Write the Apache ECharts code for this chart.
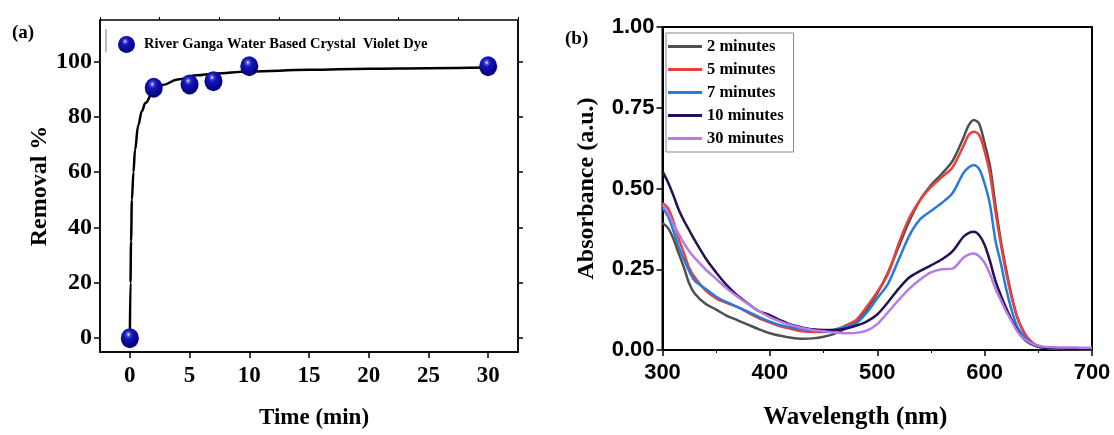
<!DOCTYPE html>
<html>
<head>
<meta charset="utf-8">
<script src="https://cdn.jsdelivr.net/npm/echarts@6/dist/echarts.min.js"></script>
<style>
  html, body { margin: 0; padding: 0; background: #fff; }
  #main { width: 1114px; height: 435px; }
</style>
</head>
<body>
<div id="main"></div>
<script>
// (a) removal vs time
const timeMin = [0, 2, 5, 7, 10, 30];
const removalPct = [0, 90.5, 91.7, 92.9, 98.3, 98.3];
const fitTime = [0, 0.05, 0.1, 0.17, 0.3, 0.43, 0.7, 1, 1.3, 2, 2.75, 4, 5.6, 7, 10, 15, 20, 25, 30];
const fitPct = [0, 20, 35, 50, 60, 68, 77, 82, 85, 89.5, 91.5, 93.5, 95, 95.6, 96.4, 97, 97.4, 97.6, 97.8];
const timeTicks = [0, 5, 10, 15, 20, 25, 30];
const timeMinorTicks = [-2.5, 2.5, 7.5, 12.5, 17.5, 22.5, 27.5, 32.5];
const removalTicks = [0, 20, 40, 60, 80, 100];

// (b) absorbance spectra
const wavelength = [300, 305, 310, 315, 320, 325, 330, 340, 350, 360, 370, 380, 390, 400, 410, 420, 430, 440, 450, 460, 470, 480, 490, 500, 510, 520, 530, 540, 550, 560, 570, 580, 585, 590, 595, 600, 605, 610, 615, 620, 625, 630, 635, 640, 645, 650, 660, 670, 680, 690, 700];
const abs2 = [.393, .378, .345, .30, .255, .205, .175, .143, .125, .106, .092, .078, .064, .052, .044, .038, .035, .036, .041, .05, .065, .087, .125, .175, .24, .32, .40, .465, .51, .545, .585, .655, .695, .712, .70, .64, .57, .45, .34, .25, .17, .105, .065, .037, .02, .011, .005, .003, .002, .002, .002];
const abs5 = [.455, .44, .40, .345, .30, .253, .225, .185, .16, .145, .133, .115, .098, .085, .073, .065, .058, .056, .056, .06, .075, .092, .133, .18, .235, .33, .41, .465, .505, .535, .565, .63, .665, .676, .665, .615, .545, .43, .33, .24, .165, .105, .065, .038, .022, .013, .006, .004, .004, .003, .003];
const abs7 = [.44, .415, .37, .32, .28, .243, .215, .19, .165, .148, .133, .118, .102, .088, .077, .07, .064, .06, .058, .063, .072, .082, .115, .16, .205, .28, .355, .405, .43, .455, .485, .547, .565, .573, .56, .515, .45, .34, .27, .19, .125, .075, .048, .03, .018, .011, .006, .005, .004, .004, .003];
const abs10 = [.553, .52, .48, .435, .40, .37, .34, .285, .24, .20, .168, .143, .12, .108, .092, .078, .07, .064, .062, .062, .066, .075, .088, .11, .148, .19, .225, .245, .262, .28, .305, .35, .362, .366, .355, .325, .275, .215, .17, .13, .095, .063, .04, .025, .016, .01, .006, .005, .004, .004, .004];
const abs30 = [.45, .425, .39, .36, .33, .305, .285, .25, .22, .19, .165, .142, .12, .102, .088, .077, .068, .062, .058, .054, .052, .053, .06, .08, .117, .155, .19, .218, .24, .25, .252, .285, .295, .299, .29, .27, .235, .19, .155, .12, .09, .06, .04, .027, .018, .012, .009, .008, .008, .007, .007];
const spectraNames = ["2 minutes", "5 minutes", "7 minutes", "10 minutes", "30 minutes"];
const spectraColors = ["#4f4f4f", "#e8403c", "#2a7ad8", "#26104f", "#b57be6"];

const zip = (xs, ys) => xs.map((x, i) => [x, ys[i]]);
const serif = "'Liberation Serif', 'DejaVu Serif', serif";
const sans = "'Liberation Sans', Arial, sans-serif";
const legendName = "River Ganga Water Based Crystal  Violet Dye";

// glossy blue ball for the markers
const ball = new echarts.graphic.RadialGradient(0.42, 0.32, 0.62, [
  { offset: 0, color: "#ffffff" },
  { offset: 0.14, color: "#5a5ae0" },
  { offset: 0.35, color: "#1616b8" },
  { offset: 1, color: "#02027c" },
]);

let myChart = echarts.init(document.getElementById("main"));
let option = {
  backgroundColor: "#fff",
  animation: false,
  title: [
    { text: "(a)", left: 7, top: 19, textStyle: { fontFamily: serif, fontWeight: "bold", fontSize: 19, color: "#000" } },
    { text: "(b)", left: 560, top: 25, textStyle: { fontFamily: serif, fontWeight: "bold", fontSize: 19, color: "#000" } },
  ],
  legend: [
    {
      data: [legendName],
      left: 113,
      top: 31,
      itemWidth: 17,
      itemHeight: 19,
      textStyle: { fontFamily: serif, fontWeight: "bold", fontSize: 14.5, color: "#000", padding: [0, 0, 0, 4] },
    },
    {
      data: spectraNames,
      orient: "vertical",
      left: 666,
      top: 33,
      icon: "rect",
      itemWidth: 34,
      itemHeight: 3,
      itemGap: 6,
      padding: [5, 10, 5, 2],
      borderColor: "#888",
      borderWidth: 1,
      textStyle: { fontFamily: serif, fontWeight: "bold", fontSize: 16.5, color: "#000", lineHeight: 17 },
    },
  ],
  graphic: [
    { type: "line", shape: { x1: 106, y1: 29, x2: 106, y2: 52 }, style: { stroke: "#777", lineWidth: 1 } },
  ],
  grid: [
    { left: 100, top: 20, width: 418, height: 334.6, show: true, borderColor: "#000", borderWidth: 1.5 },
    { left: 662.5, top: 27, width: 429.5, height: 323, show: true, borderColor: "#000", borderWidth: 2 },
  ],
  xAxis: [
    {
      gridIndex: 0,
      type: "value",
      min: -2.5,
      max: 32.5,
      name: "Time (min)",
      nameLocation: "middle",
      nameGap: 55,
      nameTextStyle: { fontFamily: serif, fontWeight: "bold", fontSize: 23, color: "#000", padding: [0, 0, 0, 10] },
      axisLine: { onZero: false, lineStyle: { color: "#000", width: 1.5 } },
      axisTick: { customValues: timeTicks, length: 6, lineStyle: { color: "#000", width: 1.5 } },
      axisLabel: { customValues: timeTicks, margin: 13, fontFamily: serif, fontWeight: "bold", fontSize: 23, color: "#000" },
      splitLine: { show: false },
    },
    {
      gridIndex: 0,
      type: "value",
      min: -2.5,
      max: 32.5,
      axisLine: { show: false, onZero: false },
      axisTick: { customValues: timeMinorTicks, length: 3, lineStyle: { color: "#000", width: 1 } },
      axisLabel: { show: false },
      splitLine: { show: false },
    },
    {
      gridIndex: 1,
      type: "value",
      min: 300,
      max: 700,
      interval: 100,
      name: "Wavelength (nm)",
      nameLocation: "middle",
      nameGap: 55,
      nameTextStyle: { fontFamily: serif, fontWeight: "bold", fontSize: 25, color: "#000", padding: [0, 44, 0, 0] },
      axisLine: { onZero: false, lineStyle: { color: "#000", width: 2 } },
      axisTick: { length: 6, lineStyle: { color: "#000", width: 1.5 } },
      minorTick: { show: true, splitNumber: 2, length: 3, lineStyle: { color: "#000", width: 1 } },
      axisLabel: { margin: 12, fontFamily: sans, fontWeight: "bold", fontSize: 22, color: "#000" },
      splitLine: { show: false },
    },
  ],
  yAxis: [
    {
      gridIndex: 0,
      type: "value",
      min: -5,
      max: 115,
      name: "Removal %",
      nameLocation: "middle",
      nameGap: 48,
      nameTextStyle: { fontFamily: serif, fontWeight: "bold", fontSize: 24, color: "#000" },
      axisLine: { show: true, onZero: false, lineStyle: { color: "#000", width: 1.5 } },
      axisTick: { show: true, customValues: removalTicks, length: 6, lineStyle: { color: "#000", width: 1.5 } },
      axisLabel: { customValues: removalTicks, margin: 8, fontFamily: serif, fontWeight: "bold", fontSize: 24, color: "#000" },
      splitLine: { show: false },
    },
    {
      gridIndex: 0,
      type: "value",
      position: "right",
      min: -5,
      max: 115,
      axisLine: { show: true, onZero: false, lineStyle: { color: "#000", width: 1.5 } },
      axisTick: { show: true, customValues: removalTicks, length: 5, lineStyle: { color: "#000", width: 1.5 } },
      axisLabel: { show: false },
      splitLine: { show: false },
    },
    {
      gridIndex: 1,
      type: "value",
      min: 0,
      max: 1,
      interval: 0.25,
      name: "Absorbance (a.u.)",
      nameLocation: "middle",
      nameGap: 64,
      nameTextStyle: { fontFamily: serif, fontWeight: "bold", fontSize: 24, color: "#000" },
      axisLine: { show: true, onZero: false, lineStyle: { color: "#000", width: 2 } },
      axisTick: { show: true, length: 6, lineStyle: { color: "#000", width: 1.5 } },
      axisLabel: { margin: 8, fontFamily: sans, fontWeight: "bold", fontSize: 22, color: "#000", formatter: (v) => v.toFixed(2) },
      splitLine: { show: false },
    },
  ],
  series: [
    {
      name: "fit",
      type: "line",
      xAxisIndex: 0,
      yAxisIndex: 0,
      data: zip(fitTime, fitPct),
      smooth: 0.4,
      smoothMonotone: "x",
      showSymbol: false,
      lineStyle: { color: "#000", width: 2.5 },
      z: 2,
    },
    {
      name: legendName,
      type: "scatter",
      xAxisIndex: 0,
      yAxisIndex: 0,
      data: zip(timeMin, removalPct),
      symbol: "circle",
      symbolSize: [18, 20],
      itemStyle: { color: ball, opacity: 1 },
      z: 3,
    },
    ...spectraNames.map((name, i) => ({
      name: name,
      type: "line",
      xAxisIndex: 2,
      yAxisIndex: 2,
      data: zip(wavelength, [abs2, abs5, abs7, abs10, abs30][i]),
      smooth: 0.3,
      showSymbol: false,
      color: spectraColors[i],
      lineStyle: { color: spectraColors[i], width: 2.5 },
    })),
  ],
};
myChart.setOption(option);
window.addEventListener("resize", () => {
  myChart.resize();
});
</script>
</body>
</html>
